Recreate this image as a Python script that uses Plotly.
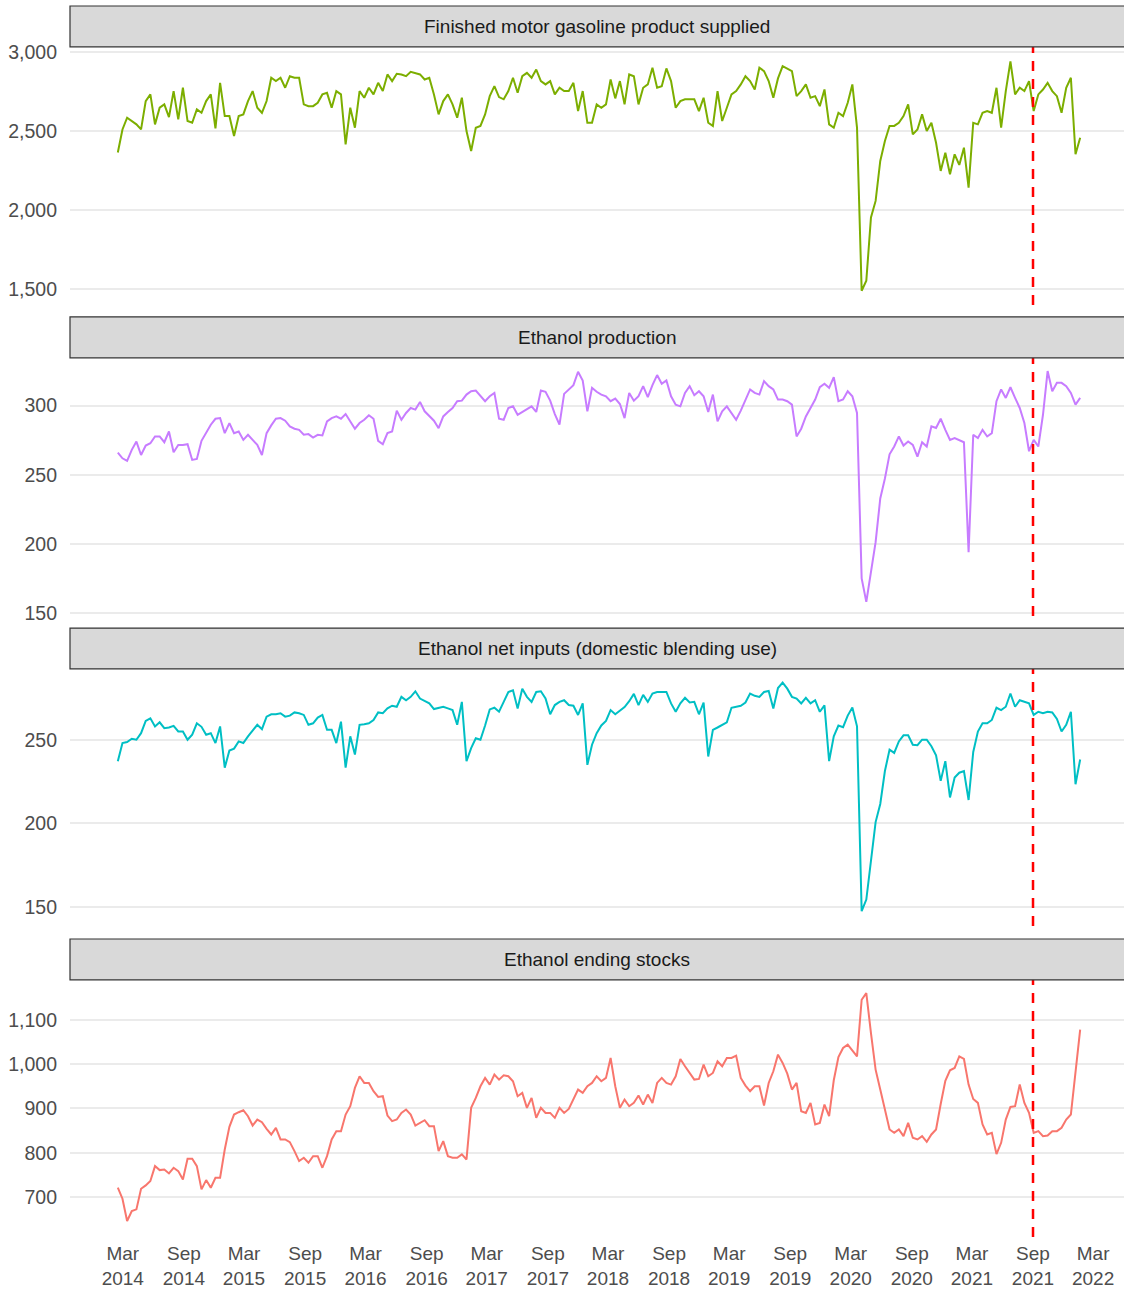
import pandas as pd
import plotly.graph_objects as go

# ---------------- data (bi-weekly readings) ----------------
dates = pd.date_range("2014-02-14", periods=208, freq="14D")

gasoline = [
    2364, 2510, 2584, 2563, 2542, 2510, 2689, 2731, 2542, 2647, 2668, 2588, 2752, 2573, 2773, 2563, 2552,
    2636, 2615, 2689, 2731, 2517, 2804, 2594, 2594, 2468, 2594, 2605, 2689, 2752, 2647, 2615, 2689, 2836,
    2815, 2836, 2773, 2846, 2836, 2836, 2668, 2657, 2657, 2678, 2731, 2741, 2647, 2752, 2731, 2416, 2647,
    2521, 2752, 2710, 2773, 2731, 2804, 2752, 2857, 2815, 2861, 2857, 2846, 2874, 2867, 2857, 2825,
    2836, 2731, 2605, 2689, 2731, 2668, 2584, 2710, 2500, 2374,
    2521, 2532, 2605, 2720, 2783, 2714, 2700, 2752, 2836, 2741,
    2846, 2867, 2836, 2888, 2815, 2794, 2815, 2731, 2773, 2752,
    2752, 2804, 2626, 2752, 2552, 2552, 2668, 2647, 2668, 2825,
    2706, 2815, 2668, 2857, 2846, 2668, 2773, 2794, 2899, 2773,
    2783, 2895, 2815, 2647, 2689, 2700, 2700, 2700, 2626, 2710,
    2552, 2532, 2752, 2563, 2647, 2731, 2752, 2794, 2846, 2815, 2762,
    2899, 2878, 2815, 2710, 2832, 2909, 2895, 2878, 2720, 2752,
    2794, 2710, 2720, 2657, 2762, 2542, 2521, 2615, 2594, 2678,
    2794, 2521, 1492, 1555, 1954, 2059, 2311, 2437, 2532, 2532,
    2552, 2594, 2668, 2479, 2510, 2605, 2500, 2552, 2426, 2248,
    2363, 2227, 2353, 2286, 2395, 2143, 2552, 2542, 2615, 2626,
    2615, 2773, 2521, 2752, 2940, 2731, 2773, 2752, 2815, 2626,
    2731, 2762, 2804, 2752, 2720, 2615, 2773, 2836, 2353, 2458,
]

ethanol_production = [
    266.0, 261.9, 260.0, 268.0, 274.0, 264.3, 271.1, 272.8, 277.7, 277.7,
    273.5, 281.3, 266.3, 271.6, 271.6, 272.1, 260.7, 261.4, 274.5, 280.1,
    286.2, 290.5, 291.0, 280.1, 287.4, 280.1, 281.3, 275.2, 278.9, 275.2,
    271.6, 264.3, 280.1, 285.7, 290.5, 291.0, 289.1, 285.0, 283.3, 282.5,
    278.9, 279.4, 276.9, 278.9, 278.4, 288.6, 291.0, 292.2, 290.5, 293.9,
    288.6, 283.3, 287.4, 289.8, 293.0, 290.5, 274.5, 272.1, 280.1, 281.3,
    296.4, 289.8, 294.7, 298.3, 297.1, 302.7, 295.9,
    292.2, 289.1, 283.7, 292.2, 295.4, 298.3, 303.2, 303.6, 308.0, 310.4,
    310.9, 306.8, 303.2, 306.8, 309.2, 290.5, 289.8, 298.3, 299.5, 293.4,
    295.4, 297.8, 299.5, 295.4, 310.9, 310.0, 303.6, 293.9, 286.2, 308.5,
    311.7, 314.8, 324.5, 318.2, 295.9, 312.9, 310.0, 308.0, 306.8, 303.2,
    305.1, 301.2, 291.0, 309.2, 303.6, 306.8, 314.1, 306.1, 314.8, 322.1,
    315.8, 318.2, 306.8, 300.7, 299.5, 309.2, 314.1, 307.5, 310.4, 306.8,
    295.4, 308.0, 288.6, 295.9, 299.5, 294.7, 289.8, 296.4, 303.6, 311.7, 309.2,
    308.0, 317.7, 314.1, 311.7, 304.4, 304.4, 303.2, 300.7, 277.7, 283.3,
    292.2, 298.3, 304.4, 313.3, 315.8, 312.9, 320.6, 303.2, 304.4, 310.4,
    306.8, 294.7, 175.0, 158.0, 178.2, 201.2, 232.8, 247.3, 264.8, 270.4,
    277.7, 271.1, 274.0, 271.6, 263.1, 273.5, 270.4, 285.0, 283.8, 290.5,
    282.5, 275.2, 276.5, 275.2, 273.5, 194.0, 278.9, 276.5, 282.5, 277.7,
    280.1, 303.2, 311.7, 305.6, 313.3, 305.6, 298.3, 287.4, 267.0, 275.2,
    270.4, 293.4, 325.0, 310.4, 316.5, 316.5, 314.1, 309.2, 300.7, 305.6,
]

ethanol_net_inputs = [
    237.2, 248.0, 248.6, 250.6, 250.0, 253.9, 261.2, 262.8, 257.9, 260.4,
    256.9, 257.3, 258.3, 254.9, 254.9, 250.0, 253.0, 259.8, 257.7, 253.0,
    253.9, 248.0, 257.9, 233.3, 243.5, 244.7, 249.0, 248.0, 252.0, 255.3,
    258.9, 256.3, 263.8, 265.2, 265.2, 265.8, 263.8, 264.4, 266.3, 265.8,
    264.8, 258.9, 259.8, 263.2, 264.8, 255.9, 255.9, 248.0, 260.8, 233.3,
    252.0, 241.1, 258.9, 259.3, 259.8, 261.8, 266.3, 265.8, 268.7, 270.3,
    269.7, 275.6, 273.6, 275.6, 278.9, 274.6, 273.0,
    271.7, 268.3, 269.1, 269.7, 268.7, 267.7, 258.9, 272.6, 237.2, 245.0,
    250.9, 250.0, 258.5, 268.1, 269.1, 266.7, 272.6, 278.5, 279.5, 268.7,
    280.5, 275.6, 272.6, 278.5, 278.9, 274.6, 265.2, 270.7, 272.6, 273.6,
    270.7, 270.3, 264.8, 271.7, 235.0, 247.0, 253.9, 258.5, 261.2, 267.7,
    265.2, 267.1, 269.5, 273.0, 277.4, 270.7, 276.8, 272.6, 277.6, 278.5,
    278.5, 278.5, 271.7, 266.7, 271.7, 275.0, 272.2, 272.6, 265.2, 272.2,
    240.0, 255.9, 257.3, 258.9, 260.4, 269.1, 269.7, 270.3, 272.2, 277.6, 276.2,
    275.6, 278.5, 279.1, 268.7, 280.9, 284.1, 280.5, 275.6, 274.6, 271.7,
    275.0, 271.7, 273.6, 266.7, 270.5, 237.2, 252.0, 258.5, 257.5, 264.4,
    269.3, 258.0, 147.6, 154.5, 176.2, 200.8, 211.6, 231.3, 244.1, 242.1,
    249.0, 252.6, 252.6, 247.0, 246.7, 250.0, 250.0, 246.1, 240.7, 225.4,
    237.2, 215.5, 227.4, 230.3, 231.3, 214.0, 242.7, 254.9, 259.8, 259.8,
    261.8, 269.1, 267.7, 269.7, 277.6, 269.7, 273.6, 272.6, 271.7, 264.8,
    266.7, 265.8, 266.7, 266.3, 262.4, 254.9, 258.9, 266.7, 223.4, 238.2,
]

ethanol_stocks = [
    721.3, 696.5, 646.3, 668.8, 672.5, 719.0, 726.5, 736.3, 770.0, 761.0,
    762.5, 753.5, 766.3, 758.8, 740.0, 786.5, 786.5, 770.0, 717.5, 738.5,
    721.3, 743.8, 743.8, 807.5, 858.5, 886.3, 891.5, 896.0, 882.5, 861.5,
    875.0, 869.0, 854.0, 841.3, 856.3, 830.0, 830.0, 824.0, 803.8, 781.3,
    788.8, 777.5, 792.5, 792.5, 766.3, 792.5, 830.0, 848.8, 848.8, 886.3,
    905.0, 946.3, 972.5, 957.5, 957.5, 938.8, 926.0, 927.5, 884.0, 871.3,
    875.0, 890.0, 897.5, 886.3, 861.5, 867.5, 873.5,
    860.0, 860.0, 803.8, 826.3, 792.5, 788.8, 788.8, 796.3, 785.0, 901.3,
    923.8, 950.0, 968.8, 953.8, 976.3, 965.0, 974.8, 972.5, 961.3, 927.5,
    935.0, 901.3, 923.8, 878.8, 901.3, 890.0, 890.0, 878.8, 901.5, 890.0,
    899.0, 920.0, 942.5, 935.0, 950.0, 957.5, 972.5, 961.3, 968.8, 1013.8,
    950.0, 901.3, 920.0, 905.0, 912.5, 929.0, 908.8, 931.3, 912.5, 957.5,
    968.8, 957.5, 953.8, 972.5, 1011.5, 995.0, 980.0, 965.0, 966.5, 998.8,
    972.5, 980.0, 1006.3, 995.0, 1013.8, 1013.8, 1019.0, 968.8, 951.5, 938.8, 950.0,
    950.0, 906.5, 957.5, 983.8, 1021.3, 1002.5, 978.5, 942.5, 957.5, 893.8,
    890.0, 912.5, 863.8, 867.5, 908.8, 882.5, 963.5, 1016.0, 1036.3, 1043.8,
    1031.0, 1017.5, 1145.0, 1160.0, 1070.0, 987.5, 942.5, 897.5, 852.5, 845.0,
    852.5, 837.5, 867.5, 833.8, 830.0, 837.5, 824.8, 841.3, 852.5, 910.0,
    962.5, 986.0, 991.3, 1017.5, 1011.5, 953.8, 921.3, 912.5, 863.8, 841.3,
    845.0, 797.0, 822.5, 875.0, 903.5, 905.0, 953.8, 912.5, 890.0, 845.0,
    848.8, 837.5, 839.0, 848.8, 848.8, 856.3, 875.0, 886.3, 987.5, 1077.5,
]

panel_titles = [
    "Finished motor gasoline product supplied",
    "Ethanol production",
    "Ethanol net inputs (domestic blending use)",
    "Ethanol ending stocks",
]
series = [gasoline, ethanol_production, ethanol_net_inputs, ethanol_stocks]
colors = ["#7CAE00", "#C77CFF", "#00BFC4", "#F8766D"]
y_ranges = [[1402, 3031], [147.8, 334.6], [138.7, 292.3], [610.2, 1189.9]]
y_ticks = [[1500, 2000, 2500, 3000], [150, 200, 250, 300], [150, 200, 250], [700, 800, 900, 1000, 1100]]

x_tick_dates = pd.date_range("2014-03-01", "2022-03-01", freq="6MS")
x_tick_text = [f"{d.strftime('%b')}<br>{d.year}" for d in x_tick_dates]
vline_date = "2021-09-01"
x_range = ["2013-09-23", "2022-06-02"]

# ---------------- layout geometry ----------------
H_PLOT = 1235.0
domains = [(0.7571, 0.9668), (0.5045, 0.7142), (0.2526, 0.4615), (0.0, 0.2089)]
strip_h = 41 / H_PLOT

FONT = "Liberation Sans, Arial, sans-serif"
fig = go.Figure()
shapes, annotations = [], []
layout_axes = {}

for k in range(4):
    n = k + 1
    xa = "x" if n == 1 else f"x{n}"
    ya = "y" if n == 1 else f"y{n}"
    xkey = "xaxis" if n == 1 else f"xaxis{n}"
    ykey = "yaxis" if n == 1 else f"yaxis{n}"
    fig.add_trace(go.Scatter(
        x=dates, y=series[k], mode="lines",
        line=dict(color=colors[k], width=2),
        xaxis=xa, yaxis=ya, showlegend=False, name=panel_titles[k],
    ))
    d0, d1 = domains[k]
    layout_axes[xkey] = dict(
        domain=[0, 1], anchor=ya, range=x_range, showgrid=False, zeroline=False,
        showline=False, ticks="", showticklabels=(n == 4),
        tickvals=list(x_tick_dates), ticktext=x_tick_text,
        tickfont=dict(family=FONT, size=19, color="#4D4D4D"),
        ticklabelstandoff=3,
    )
    if n != 1:
        layout_axes[xkey]["matches"] = "x"
    layout_axes[ykey] = dict(
        domain=[d0, d1], anchor=xa, range=y_ranges[k], tickvals=y_ticks[k],
        tickformat=",", showgrid=True, gridcolor="#EBEBEB", gridwidth=1.6,
        zeroline=False, showline=False, ticks="",
        tickfont=dict(family=FONT, size=19.5, color="#4D4D4D"),
        ticklabelstandoff=12,
    )
    shapes.append(dict(
        type="line", xref=xa, yref=f"{ya} domain", x0=vline_date, x1=vline_date,
        y0=0, y1=1, line=dict(color="#FF0000", width=2.5, dash="10px,8px"),
    ))
    shapes.append(dict(
        type="rect", xref="paper", yref="paper", x0=0, x1=1.002,
        y0=d1, y1=d1 + strip_h, fillcolor="#D9D9D9",
        line=dict(color="#333333", width=1.2),
    ))
    annotations.append(dict(
        text=panel_titles[k], xref="paper", yref="paper", x=0.5, y=d1 + strip_h / 2,
        showarrow=False, xanchor="center", yanchor="middle",
        font=dict(family=FONT, size=19, color="#1A1A1A"),
    ))

fig.update_layout(
    width=1124, height=1289,
    margin=dict(l=70, r=0, t=5, b=49),
    paper_bgcolor="white", plot_bgcolor="white",
    shapes=shapes, annotations=annotations,
    **layout_axes,
)

fig.write_html(
    "out.html",
    config={"displayModeBar": False},
    post_script="document.body.style.margin='0';document.body.style.overflow='hidden';",
)
